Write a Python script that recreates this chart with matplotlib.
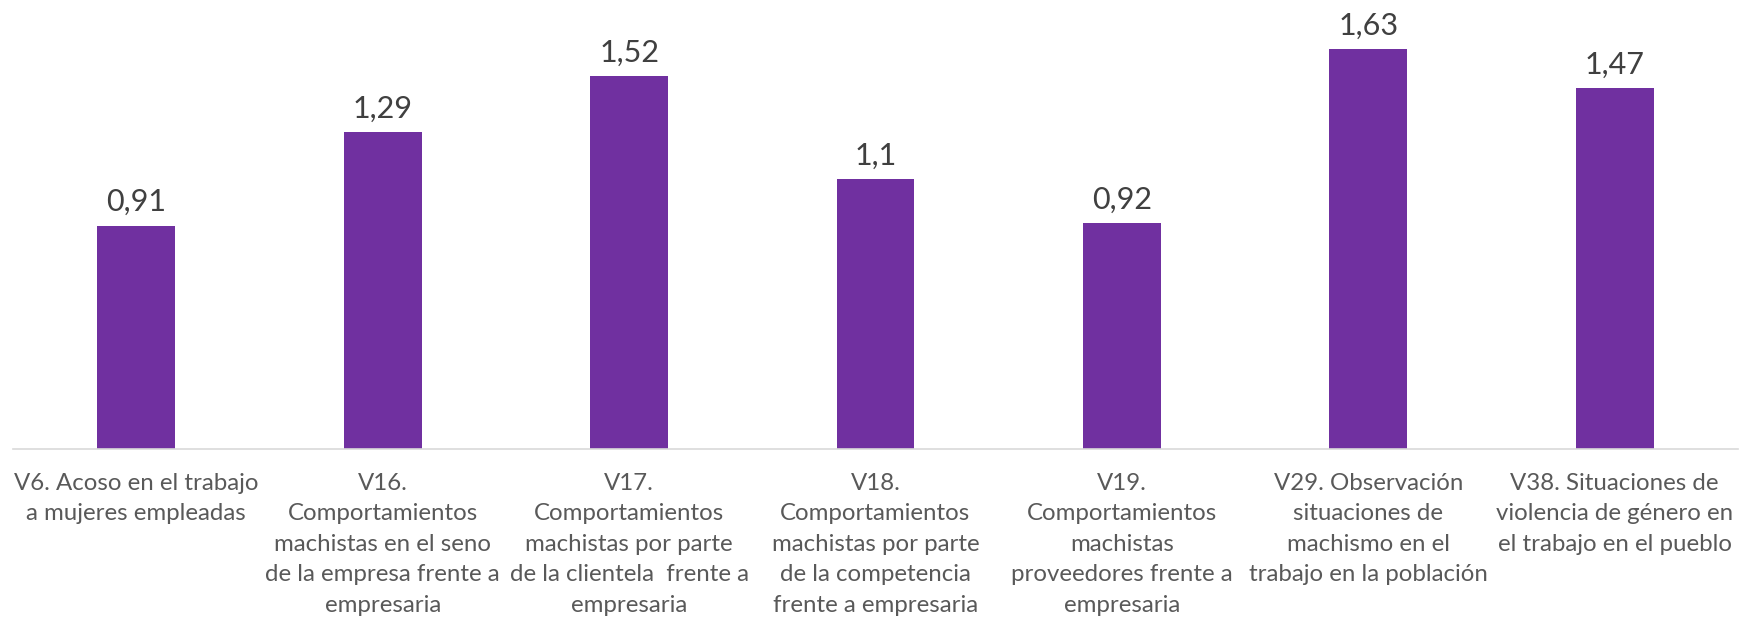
import matplotlib
matplotlib.use("Agg")
import matplotlib.pyplot as plt

# Data
categories = [
    "V6. Acoso en el trabajo\na mujeres empleadas",
    "V16.\nComportamientos\nmachistas en el seno\nde la empresa frente a\nempresaria",
    "V17.\nComportamientos\nmachistas por parte\nde la clientela  frente a\nempresaria",
    "V18.\nComportamientos\nmachistas por parte\nde la competencia\nfrente a empresaria",
    "V19.\nComportamientos\nmachistas\nproveedores frente a\nempresaria",
    "V29. Observación\nsituaciones de\nmachismo en el\ntrabajo en la población",
    "V38. Situaciones de\nviolencia de género en\nel trabajo en el pueblo",
]
values = [0.91, 1.29, 1.52, 1.10, 0.92, 1.63, 1.47]
value_labels = ["0,91", "1,29", "1,52", "1,1", "0,92", "1,63", "1,47"]

plt.rcParams["font.family"] = ["Lato", "DejaVu Sans"]

fig = plt.figure(figsize=(17.44, 6.31), dpi=100)
ax = fig.add_axes([0.0075, 0.2884, 0.989, 0.7116])

x = range(len(categories))
bars = ax.bar(x, values, width=0.316, color="#7030A0", zorder=2)

for rect, lab in zip(bars, value_labels):
    ax.annotate(lab, (rect.get_x() + rect.get_width() / 2, rect.get_height()),
                xytext=(0, 7), textcoords="offset points",
                ha="center", va="bottom", fontsize=22, color="#404040")

ax.set_xlim(-0.5, len(categories) - 0.5)
ax.set_ylim(0, 1.83)
ax.set_xticks(list(x))
ax.set_xticklabels(categories, fontsize=17.3, color="#595959", linespacing=1.56)
ax.tick_params(axis="x", length=0, pad=17)
ax.set_yticks([])

for side in ["top", "right", "left"]:
    ax.spines[side].set_visible(False)
ax.spines["bottom"].set_color("#D9D9D9")
ax.spines["bottom"].set_linewidth(1.2)

fig.savefig("out.png", dpi=100)
plt.close(fig)
